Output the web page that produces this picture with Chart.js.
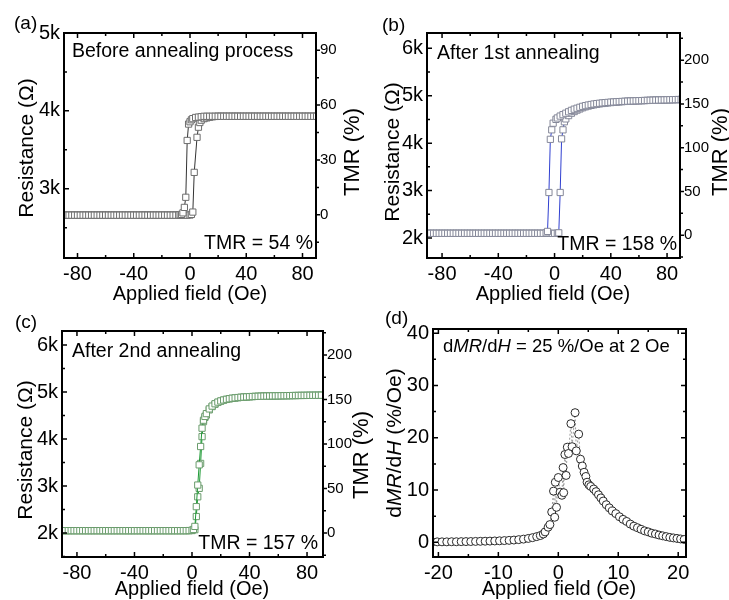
<!DOCTYPE html>
<html>
<head>
<meta charset="utf-8">
<title>TMR before and after annealing</title>
<script src="https://cdn.jsdelivr.net/npm/chart.js@4.4.0/dist/chart.umd.min.js"></script>
<style>
	body { margin: 0; background: #fff; }
	#wrap { position: relative; width: 729px; height: 600px; }
	#wrap canvas { position: absolute; left: 0; top: 0; }
</style>
</head>
<body>
<div id="wrap">
	<canvas id="chartA" width="729" height="600"></canvas>
	<canvas id="chartB" width="729" height="600"></canvas>
	<canvas id="chartC" width="729" height="600"></canvas>
	<canvas id="chartD" width="729" height="600"></canvas>
</div>
<script>
// ---- tick labels ----
const fieldTicks = [-80, -40, 0, 40, 80];
const resTicksA = [3000, 4000, 5000];
const tmrTicksA = [0, 30, 60, 90];
const resTicksBC = [2000, 3000, 4000, 5000, 6000];
const tmrTicksBC = [0, 50, 100, 150, 200];
const fieldTicksD = [-20, -10, 0, 10, 20];
const slopeTicksD = [0, 10, 20, 30, 40];

// ---- (a) before annealing: field (Oe) and resistance (ohm) ----
const fieldDownA = [-90,-88,-86,-84,-82,-80,-78,-76,-74,-72,-70,-68,-66,-64,-62,-60,-58,-56,-54,-52,
	-50,-48,-46,-44,-42,-40,-38,-36,-34,-32,-30,-28,-26,-24,-22,-20,-18,-16,-14,-12,-10,
	-8,-7,-6,-5,-4,-3,-2,-1,0,1,2,4,6,8,
	10,12,14,16,18,20,22,24,26,28,30,32,34,36,38,40,42,44,46,48,50,52,54,56,58,60,
	62,64,66,68,70,72,74,76,78,80,82,84,86,88,90];
const resDownA = [2660,2660,2660,2660,2660,2660,2660,2660,2660,2660,2660,2660,2660,2660,2660,2660,2660,2660,2660,2660,
	2660,2660,2660,2660,2660,2660,2660,2660,2660,2660,2660,2660,2660,2660,2660,2660,2660,2660,2660,2660,2660,
	2662,2665,2670,2690,2760,2890,3620,3830,3860,3885,3900,3915,3920,3925,
	3930,3930,3930,3930,3930,3930,3930,3930,3930,3930,3930,3930,3930,3930,3930,3930,3930,3930,3930,3930,3930,3930,3930,3930,3930,3930,
	3930,3930,3930,3930,3930,3930,3930,3930,3930,3930,3930,3930,3930,3930,3930];
const fieldUpA = [-90,-88,-86,-84,-82,-80,-78,-76,-74,-72,-70,-68,-66,-64,-62,-60,-58,-56,-54,-52,
	-50,-48,-46,-44,-42,-40,-38,-36,-34,-32,-30,-28,-26,-24,-22,-20,-18,-16,-14,-12,-10,
	-8,-6,-4,-2,0,1,2,3,5,6,7,8,
	10,12,14,16,18,20,22,24,26,28,30,32,34,36,38,40,42,44,46,48,50,52,54,56,58,60,
	62,64,66,68,70,72,74,76,78,80,82,84,86,88,90];
const resUpA = [2660,2660,2660,2660,2660,2660,2660,2660,2660,2660,2660,2660,2660,2660,2660,2660,2660,2660,2660,2660,
	2660,2660,2660,2660,2660,2660,2660,2660,2660,2660,2660,2660,2660,2660,2660,2660,2660,2660,2660,2660,2660,
	2660,2660,2660,2660,2662,2670,2700,3210,3660,3790,3850,3880,
	3900,3910,3918,3924,3928,3930,3930,3930,3930,3930,3930,3930,3930,3930,3930,3930,3930,3930,3930,3930,3930,3930,3930,3930,3930,3930,
	3930,3930,3930,3930,3930,3930,3930,3930,3930,3930,3930,3930,3930,3930,3930];

// ---- (b) after 1st annealing ----
const fieldDownB = [-90,-88,-86,-84,-82,-80,-78,-76,-74,-72,-70,-68,-66,-64,-62,-60,-58,-56,-54,-52,
	-50,-48,-46,-44,-42,-40,-38,-36,-34,-32,-30,-28,-26,-24,-22,-20,-18,-16,-14,-12,-10,-8,
	-6,-5,-4,-3,-2,-1,1,2,4,6,8,
	10,12,14,16,18,20,22,24,26,28,30,32,34,36,38,40,42,44,46,48,50,52,54,56,58,60,
	62,64,66,68,70,72,74,76,78,80,82,84,86,88,90];
const resDownB = [2100,2100,2100,2100,2100,2100,2100,2100,2100,2100,2100,2100,2100,2100,2100,2100,2100,2100,2100,2100,
	2100,2100,2100,2100,2100,2100,2100,2100,2100,2100,2100,2100,2100,2100,2100,2100,2100,2100,2100,2100,2100,2100,
	2110,2140,2960,4080,4280,4420,4500,4530,4570,4600,4630,
	4660,4690,4715,4735,4755,4775,4790,4803,4814,4824,4833,4840,4847,4853,4858,4863,4867,4871,4875,4878,4881,4884,4887,4889,4892,4894,
	4896,4898,4900,4902,4904,4906,4908,4909,4911,4912,4914,4915,4917,4918,4920];
const fieldUpB = [-90,-88,-86,-84,-82,-80,-78,-76,-74,-72,-70,-68,-66,-64,-62,-60,-58,-56,-54,-52,
	-50,-48,-46,-44,-42,-40,-38,-36,-34,-32,-30,-28,-26,-24,-22,-20,-18,-16,-14,-12,-10,-8,-6,-4,-2,
	0,2,3,4,5,6,7,8,
	10,12,14,16,18,20,22,24,26,28,30,32,34,36,38,40,42,44,46,48,50,52,54,56,58,60,
	62,64,66,68,70,72,74,76,78,80,82,84,86,88,90];
const resUpB = [2100,2100,2100,2100,2100,2100,2100,2100,2100,2100,2100,2100,2100,2100,2100,2100,2100,2100,2100,2100,
	2100,2100,2100,2100,2100,2100,2100,2100,2100,2100,2100,2100,2100,2100,2100,2100,2100,2100,2100,2100,2100,2100,2100,2100,2100,
	2100,2103,2110,2960,4090,4280,4450,4510,
	4580,4630,4665,4695,4720,4745,4765,4780,4795,4807,4818,4827,4835,4842,4848,4854,4860,4865,4870,4874,4878,4882,4885,4888,4891,4893,
	4895,4897,4899,4901,4903,4905,4907,4909,4910,4912,4913,4915,4916,4918,4919];

// ---- (c) after 2nd annealing ----
const fieldDownC = [-90,-88,-86,-84,-82,-80,-78,-76,-74,-72,-70,-68,-66,-64,-62,-60,-58,-56,-54,-52,
	-50,-48,-46,-44,-42,-40,-38,-36,-34,-32,-30,-28,-26,-24,-22,-20,-18,-16,-14,-12,-10,-8,-6,-4,
	-2,0,1,2,3,4,5,6,7,8,9,
	10,12,14,16,18,20,22,24,26,28,30,32,34,36,38,40,42,44,46,48,50,52,54,56,58,60,
	62,64,66,68,70,72,74,76,78,80,82,84,86,88,90];
const resDownC = [2050,2050,2050,2050,2050,2050,2050,2050,2050,2050,2050,2050,2050,2050,2050,2050,2050,2050,2050,2050,
	2050,2050,2050,2050,2050,2050,2050,2050,2050,2050,2050,2050,2050,2050,2050,2050,2050,2050,2050,2050,2050,2050,2050,2050,
	2052,2058,2075,2140,2560,3020,3450,3840,4230,4400,4480,
	4540,4640,4700,4750,4785,4810,4830,4845,4857,4867,4875,4882,4887,4892,4896,4900,4903,4906,4908,4910,4912,4914,4915,4917,4918,4919,
	4920,4921,4922,4923,4924,4925,4926,4927,4927,4928,4929,4929,4930,4930,4931];
const fieldUpC = [-90,-88,-86,-84,-82,-80,-78,-76,-74,-72,-70,-68,-66,-64,-62,-60,-58,-56,-54,-52,
	-50,-48,-46,-44,-42,-40,-38,-36,-34,-32,-30,-28,-26,-24,-22,-20,-18,-16,-14,-12,-10,-8,-6,-4,-2,0,
	2,3,4,5,6,7,8,9,
	10,12,14,16,18,20,22,24,26,28,30,32,34,36,38,40,42,44,46,48,50,52,54,56,58,60,
	62,64,66,68,70,72,74,76,78,80,82,84,86,88,90];
const resUpC = [2050,2050,2050,2050,2050,2050,2050,2050,2050,2050,2050,2050,2050,2050,2050,2050,2050,2050,2050,2050,
	2050,2050,2050,2050,2050,2050,2050,2050,2050,2050,2050,2050,2050,2050,2050,2050,2050,2050,2050,2050,2050,2050,2050,2050,2050,2052,
	2070,2350,2770,2950,3480,4050,4370,4460,
	4510,4620,4690,4740,4778,4805,4826,4842,4855,4865,4873,4880,4886,4891,4895,4899,4903,4906,4908,4910,4912,4914,4915,4917,4918,4919,
	4920,4921,4922,4923,4924,4925,4926,4927,4927,4928,4929,4929,4930,4930,4931];

// ---- (d) dMR/dH (%/Oe) versus field (Oe) ----
const fieldD = [-21.0,-20.2,-19.4,-18.6,-17.8,-17.0,-16.2,-15.4,-14.6,-13.8,-13.0,-12.2,-11.4,-10.6,-9.8,-9.0,-8.2,-7.4,-6.6,-5.8,-5.0,
	-4.3,-3.6,-3.0,-2.5,-2.2,-1.7,-1.4,-1.1,-0.8,-0.6,-0.5,-0.3,0.0,0.3,0.6,0.8,0.9,1.1,1.3,1.5,1.7,2.1,2.3,2.8,3.0,3.4,3.7,4.0,4.3,4.6,4.8,5.1,5.4,5.9,
	6.3,6.7,7.1,7.5,8.0,8.5,9.0,9.6,10.2,10.8,11.4,12.0,12.6,13.2,13.8,14.4,15.0,15.6,16.2,16.8,17.4,18.0,18.6,19.2,19.8,20.4,21.0];
const slopeD = [0.1,0.1,0.1,0.1,0.12,0.12,0.14,0.15,0.16,0.18,0.2,0.22,0.24,0.27,0.3,0.34,0.38,0.44,0.52,0.62,0.75,
	0.9,1.1,1.3,1.6,2.0,2.9,3.4,5.8,9.8,4.8,11.5,6.7,12.4,9.6,9.0,14.3,9.5,16.8,12.8,18.2,17.0,22.7,18.3,24.8,17.5,20.7,15.9,14.6,13.4,12.6,11.5,11.0,10.7,10.2,
	9.7,9.1,8.5,7.9,7.2,6.6,6.0,5.5,4.9,4.4,4.0,3.5,3.1,2.8,2.5,2.2,2.0,1.75,1.6,1.4,1.25,1.1,0.95,0.85,0.75,0.65,0.55];

const FONT = "'Liberation Sans', Arial, sans-serif";
Chart.defaults.font.family = FONT;
Chart.defaults.color = '#000';

function pts(xs, ys) {
	return xs.map((v, i) => ({ x: v, y: ys[i] }));
}

// one sweep branch of a R(H) loop
function branch(xs, ys, line, mark) {
	return {
		data: pts(xs, ys), showLine: true, borderColor: line, borderWidth: 1,
		pointStyle: 'rect', pointRadius: 4.4, pointBorderWidth: 1,
		pointBorderColor: mark, pointBackgroundColor: '#fff', yAxisID: 'y'
	};
}

// text with optional italic parts, optionally rotated
function drawRich(ctx, t) {
	ctx.save();
	ctx.translate(t.x, t.y);
	if (t.rot) ctx.rotate(t.rot * Math.PI / 180);
	ctx.textBaseline = t.base || 'alphabetic';
	ctx.textAlign = 'left';
	ctx.fillStyle = '#000';
	let w = 0;
	t.parts.forEach(p => {
		ctx.font = (p.i ? 'italic ' : '') + t.size + 'px ' + FONT;
		w += ctx.measureText(p.t).width;
	});
	let cx = t.align === 'center' ? -w / 2 : (t.align === 'right' ? -w : 0);
	t.parts.forEach(p => {
		ctx.font = (p.i ? 'italic ' : '') + t.size + 'px ' + FONT;
		ctx.fillText(p.t, cx, 0);
		cx += ctx.measureText(p.t).width;
	});
	ctx.restore();
}

function minors(scale) {
	const t = scale.ticks.map(k => k.value);
	const step = t[1] - t[0];
	const out = [];
	for (let v = t[0] - step / 2; v <= scale.max; v += step) {
		if (v >= scale.min) out.push(v);
	}
	return out;
}

// frame box, inward ticks and texts
function makeFrame(cfg) {
	return {
		id: 'frame',
		afterDraw(chart) {
			const ctx = chart.ctx, a = chart.chartArea;
			ctx.save();
			ctx.strokeStyle = '#000';
			ctx.lineWidth = 1.5;
			ctx.beginPath();
			const sx = chart.scales.x, sy = chart.scales.y, s2 = chart.scales.y2;
			const xt = [[sx.ticks.map(k => k.value), 5], [minors(sx), 3]];
			xt.forEach(([vals, len]) => vals.forEach(v => {
				const p = sx.getPixelForValue(v);
				ctx.moveTo(p, a.bottom); ctx.lineTo(p, a.bottom - len);
				ctx.moveTo(p, a.top); ctx.lineTo(p, a.top + len);
			}));
			const yt = [[sy.ticks.map(k => k.value), 5], [minors(sy), 3]];
			yt.forEach(([vals, len]) => vals.forEach(v => {
				const p = sy.getPixelForValue(v);
				ctx.moveTo(a.left, p); ctx.lineTo(a.left + len, p);
				if (!s2) { ctx.moveTo(a.right, p); ctx.lineTo(a.right - len, p); }
			}));
			if (s2) {
				const rt = [[s2.ticks.map(k => k.value), 4], [minors(s2), 3]];
				rt.forEach(([vals, len]) => vals.forEach(v => {
					const p = s2.getPixelForValue(v);
					ctx.moveTo(a.right, p); ctx.lineTo(a.right + len, p);
				}));
			}
			ctx.stroke();
			ctx.lineWidth = 2;
			ctx.strokeRect(a.left, a.top, a.right - a.left, a.bottom - a.top);
			ctx.restore();
			cfg.texts.forEach(t => drawRich(ctx, t));
		}
	};
}

function axis(min, max, list, size, pad, fmt, extra) {
	return Object.assign({
		type: 'linear', min: min, max: max,
		grid: { display: false, drawTicks: false }, border: { display: false },
		ticks: { font: { size: size }, padding: pad, color: '#000', autoSkip: false, maxRotation: 0,
			callback: fmt || (v => v) },
		afterBuildTicks: s => { s.ticks = list.map(v => ({ value: v })); }
	}, extra);
}

function panel(id, box, scales, datasets, texts) {
	return new Chart(document.getElementById(id), {
		type: 'scatter',
		data: { datasets: datasets },
		options: {
			responsive: false, animation: false, events: [],
			layout: { padding: {
				left: box.l - 40, top: box.t,
				right: 729 - box.r - (scales.y2 ? 40 : 0), bottom: 600 - box.b - 30 } },
			plugins: { legend: { display: false }, tooltip: { enabled: false } },
			scales: scales
		},
		plugins: [makeFrame({ texts: texts })]
	});
}

const kFmt = v => (v / 1000) + 'k';
const fixX = { afterFit: s => { s.height = 30; } };
const fixL = { position: 'left', afterFit: s => { s.width = 40; } };
const fixR = { position: 'right', afterFit: s => { s.width = 40; } };

// (a)
panel('chartA', { l: 64, r: 316, t: 33, b: 258 }, {
	x: axis(-89.6, 89.6, fieldTicks, 20, 4, null, fixX),
	y: axis(2110, 5000, resTicksA, 20, 4, kFmt, fixL),
	y2: axis(-23.6, 99.4, tmrTicksA, 15, 4, null, fixR)
}, [
	branch(fieldDownA, resDownA, '#333', '#6e6e6e'),
	branch(fieldUpA, resUpA, '#333', '#6e6e6e')
], [
	{ parts: [{ t: '(a)' }], x: 14, y: 29, size: 19 },
	{ parts: [{ t: 'Before annealing process' }], x: 72, y: 57, size: 19.5 },
	{ parts: [{ t: 'TMR = 54 %' }], x: 313, y: 249, size: 19.5, align: 'right' },
	{ parts: [{ t: 'Resistance (Ω)' }], x: 27, y: 148, size: 21, align: 'center', rot: -90, base: 'middle' },
	{ parts: [{ t: 'TMR (%)' }], x: 353, y: 152, size: 22, align: 'center', rot: -90, base: 'middle' },
	{ parts: [{ t: 'Applied field (Oe)' }], x: 190, y: 300, size: 20, align: 'center' }
]);

// (b)
panel('chartB', { l: 427, r: 680, t: 33, b: 258 }, {
	x: axis(-90.7, 89.2, fieldTicks, 20, 4, null, fixX),
	y: axis(1580, 6320, resTicksBC, 20, 4, kFmt, fixL),
	y2: axis(-26, 231, tmrTicksBC, 15, 4, null, fixR)
}, [
	branch(fieldDownB, resDownB, '#2f3fd0', '#858899'),
	branch(fieldUpB, resUpB, '#2f3fd0', '#858899')
], [
	{ parts: [{ t: '(b)' }], x: 382, y: 31, size: 19 },
	{ parts: [{ t: 'After 1st annealing' }], x: 437, y: 59, size: 19.5 },
	{ parts: [{ t: 'TMR = 158 %' }], x: 677, y: 250, size: 19.5, align: 'right' },
	{ parts: [{ t: 'Resistance (Ω)' }], x: 393, y: 152, size: 21, align: 'center', rot: -90, base: 'middle' },
	{ parts: [{ t: 'TMR (%)' }], x: 721, y: 152, size: 22, align: 'center', rot: -90, base: 'middle' },
	{ parts: [{ t: 'Applied field (Oe)' }], x: 553, y: 300, size: 20, align: 'center' }
]);

// (c)
panel('chartC', { l: 62, r: 323, t: 331, b: 557 }, {
	x: axis(-90.4, 91.1, fieldTicks, 20, 4, null, fixX),
	y: axis(1489, 6298, resTicksBC, 20, 4, kFmt, fixL),
	y2: axis(-27, 227, tmrTicksBC, 15, 4, null, fixR)
}, [
	branch(fieldDownC, resDownC, '#1f9a36', '#6a9c6c'),
	branch(fieldUpC, resUpC, '#1f9a36', '#6a9c6c')
], [
	{ parts: [{ t: '(c)' }], x: 15, y: 328, size: 19 },
	{ parts: [{ t: 'After 2nd annealing' }], x: 72, y: 357, size: 19.5 },
	{ parts: [{ t: 'TMR = 157 %' }], x: 318, y: 549, size: 19.5, align: 'right' },
	{ parts: [{ t: 'Resistance (Ω)' }], x: 26, y: 450, size: 21, align: 'center', rot: -90, base: 'middle' },
	{ parts: [{ t: 'TMR (%)' }], x: 362, y: 455, size: 22, align: 'center', rot: -90, base: 'middle' },
	{ parts: [{ t: 'Applied field (Oe)' }], x: 192, y: 595, size: 20, align: 'center' }
]);

// (d)
panel('chartD', { l: 433, r: 686, t: 329, b: 557 }, {
	x: axis(-20.9, 21.3, fieldTicksD, 20, 4, null, fixX),
	y: axis(-2.8, 40.8, slopeTicksD, 20, 4, null, fixL)
}, [{
	data: pts(fieldD, slopeD), showLine: true, borderColor: '#9a9a9a', borderWidth: 1, borderDash: [2, 2],
	pointStyle: 'circle', pointRadius: 4, pointBorderWidth: 1,
	pointBorderColor: '#2a2a2a', pointBackgroundColor: '#fff'
}], [
	{ parts: [{ t: '(d)' }], x: 385, y: 324, size: 19 },
	{ parts: [{ t: 'd' }, { t: 'MR', i: true }, { t: '/d' }, { t: 'H', i: true }, { t: ' = 25 %/Oe at 2 Oe' }], x: 443, y: 352, size: 18.5 },
	{ parts: [{ t: 'd' }, { t: 'MR', i: true }, { t: '/d' }, { t: 'H', i: true }, { t: ' (%/Oe)' }], x: 395, y: 443, size: 21, align: 'center', rot: -90, base: 'middle' },
	{ parts: [{ t: 'Applied field (Oe)' }], x: 559, y: 595, size: 20, align: 'center' }
]);
</script>
</body>
</html>
